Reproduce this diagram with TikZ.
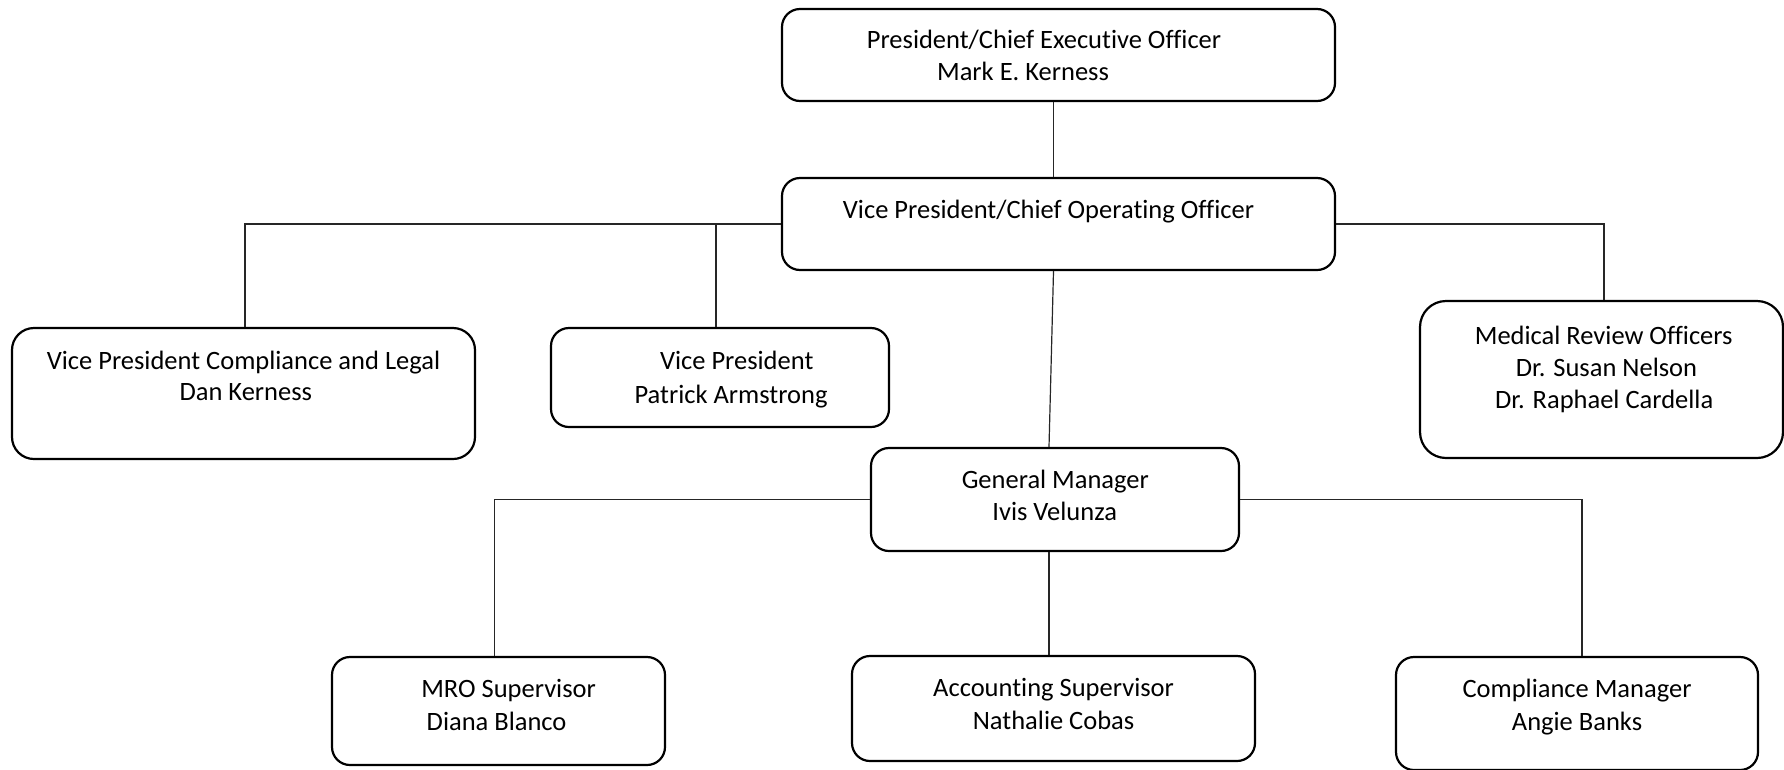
\documentclass[tikz,border=0pt]{standalone}
\usepackage{fontspec}
\setmainfont{Carlito}[Ligatures={NoCommon}]
\begin{document}
\begin{tikzpicture}[x=1pt,y=-1pt,
  box/.style={draw=black,line width=2.2pt,rounded corners=18pt,fill=white,inner sep=0pt},
  txt/.style={inner sep=0pt,text height=0.644em,text depth=0pt,yshift=-6pt,font=\fontsize{26.5}{32}\selectfont},
  link/.style={draw=black!85,line width=1.2pt}]
\useasboundingbox (0,0) rectangle (1784,769);

% boxes (outer size minus line width)
\node[box,minimum width=553pt,minimum height=92pt] (ceo)   at (1058.5,55)  {};
\node[box,minimum width=553pt,minimum height=92pt] (vpcoo) at (1058.5,224) {};
\node[box,minimum width=463pt,minimum height=131pt,rounded corners=22pt] (vpcl) at (243.5,393.5) {};
\node[box,minimum width=338pt,minimum height=99pt] (vp)    at (720,377.5)  {};
\node[box,minimum width=363pt,minimum height=157pt,rounded corners=26pt] (mro) at (1601.5,379.5) {};
\node[box,minimum width=368pt,minimum height=103pt] (gm)   at (1055,499.5) {};
\node[box,minimum width=333pt,minimum height=108pt] (mros) at (498.5,711)  {};
\node[box,minimum width=403pt,minimum height=105pt] (acc)  at (1053.5,708.5) {};
\node[box,minimum width=362pt,minimum height=113pt] (cm)   at (1577,713.5) {};

% reporting lines
\draw[link] ([xshift=-5pt]ceo.south) -- ([xshift=-5pt]vpcoo.north);
\draw[link] (vpcoo.west) -| ([xshift=1.5pt]vpcl.north);
\draw[link] (vpcoo.west) -| ([xshift=-4pt]vp.north);
\draw[link] (vpcoo.east) -| ([xshift=2.5pt]mro.north);
\draw[link] ([xshift=-5pt]vpcoo.south) -- ([xshift=-6pt]gm.north);
\draw[link] (gm.west) -| ([xshift=-4pt]mros.north);
\draw[link] (gm.east) -| ([xshift=5pt]cm.north);
\draw[link] ([xshift=-6pt]gm.south) -- ([xshift=-4.5pt]acc.north);

% titles and names
\node[txt] (ceo1)  at (1044,39)    {President/Chief Executive Officer};
\node[txt] (ceo2)  at (1023,71)    {Mark E. Kerness};
\node[txt] (coo1)  at (1048.5,209) {Vice President/Chief Operating Officer};
\node[txt] (vpcl1) at (243.5,360)  {Vice President Compliance and Legal};
\node[txt] (vpcl2) at (245.8,391)  {Dan Kerness};
\node[txt] (vp1)   at (736.7,360)  {Vice President};
\node[txt] (vp2)   at (731,394)    {Patrick Armstrong};
\node[txt] (mro1)  at (1603.7,335.6) {Medical Review Officers};
\node[txt] (mro2)  at (1606.5,367.5) {Dr. Susan Nelson};
\node[txt] (mro3)  at (1604.2,399.4) {Dr. Raphael Cardella};
\node[txt] (gm1)   at (1055.3,479) {General Manager};
\node[txt] (gm2)   at (1054.7,510.9) {Ivis Velunza};
\node[txt] (mros1) at (508.6,688.3) {MRO Supervisor};
\node[txt] (mros2) at (496.6,721.3) {Diana Blanco};
\node[txt] (acc1)  at (1053.6,687.2) {Accounting Supervisor};
\node[txt] (acc2)  at (1053.6,720.2) {Nathalie Cobas};
\node[txt] (cm1)   at (1577,688.3) {Compliance Manager};
\node[txt] (cm2)   at (1577,721.3) {Angie Banks};
\end{tikzpicture}
\end{document}
